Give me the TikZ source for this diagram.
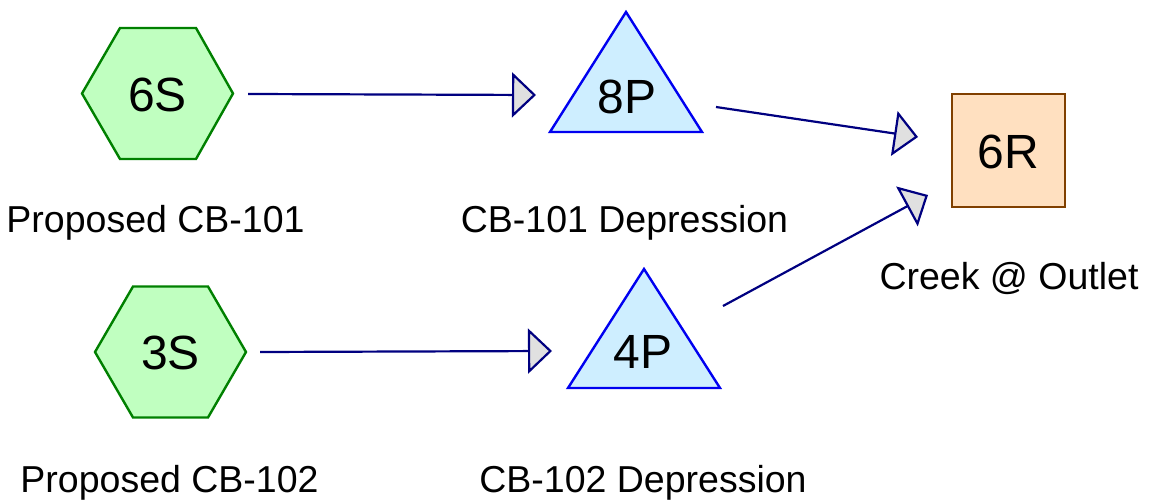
\documentclass[tikz,border=0pt]{standalone}
\usepackage{fontspec}
\setmainfont{Liberation Sans}
\usetikzlibrary{arrows.meta}
\definecolor{hexfill}{RGB}{192,255,192}
\definecolor{hexdraw}{RGB}{0,128,0}
\definecolor{trifill}{RGB}{206,238,255}
\definecolor{tridraw}{RGB}{0,0,240}
\definecolor{sqfill}{RGB}{255,224,192}
\definecolor{sqdraw}{RGB}{128,64,0}
\definecolor{arrowc}{RGB}{0,0,128}
\definecolor{tipfill}{RGB}{224,224,224}
\begin{document}
\begin{tikzpicture}[x=1pt,y=-1pt,
  hexshape/.style={draw=hexdraw,fill=hexfill,line width=2.4pt,line join=miter},
  trishape/.style={draw=tridraw,fill=trifill,line width=2.4pt,line join=miter},
  sqshape/.style={draw=sqdraw,fill=sqfill,line width=2.4pt},
  idtext/.style={font=\fontsize{48}{50}\selectfont,inner sep=0pt},
  labeltext/.style={font=\fontsize{37.5}{40}\selectfont,anchor=base,inner sep=0pt},
  flow/.style={draw=arrowc,line width=2.2pt,-{Triangle[length=24pt,width=45pt,fill=tipfill,line join=miter]}}]
\useasboundingbox (0,0) rectangle (1150,502);
% hexagons
\draw[hexshape] (82,93.5) -- (120,28) -- (196,28) -- (233,93.5) -- (196,159) -- (120,159) -- cycle;
\node[idtext] (n6S) at (157.5,95) {6S};
\draw[hexshape] (95,352) -- (133,286.5) -- (208,286.5) -- (246,352) -- (208,417.5) -- (133,417.5) -- cycle;
\node[idtext] (n3S) at (170.5,353) {3S};
% triangles
\draw[trishape] (626,12) -- (702,132) -- (550,132) -- cycle;
\node[idtext] (n8P) at (627,97) {8P};
\draw[trishape] (644,269) -- (720,388) -- (568,388) -- cycle;
\node[idtext] (n4P) at (643,352) {4P};
% square
\draw[sqshape] (952,94) rectangle (1065,207);
\node[idtext] (n6R) at (1008.5,152) {6R};
% labels
\node[labeltext] (l6S) at (155.5,233) {Proposed CB-101};
\node[labeltext] (l8P) at (624.5,233) {CB-101 Depression};
\node[labeltext] (l6R) at (1009,290) {Creek @ Outlet};
\node[labeltext] (l3S) at (169.5,492) {Proposed CB-102};
\node[labeltext] (l4P) at (643,492) {CB-102 Depression};
% connector end points
\coordinate (s1) at (248,94);
\coordinate (e1) at (536,95);
\coordinate (s2) at (260,352);
\coordinate (e2) at (552,351);
\coordinate (s3) at (716,107);
\coordinate (e3) at (918,137);
\coordinate (s4) at (723,306);
\coordinate (e4) at (928,195);
\draw[flow] (s1) -- (e1);
\draw[flow] (s2) -- (e2);
\draw[flow] (s3) -- (e3);
\draw[flow] (s4) -- (e4);
\end{tikzpicture}
\end{document}
